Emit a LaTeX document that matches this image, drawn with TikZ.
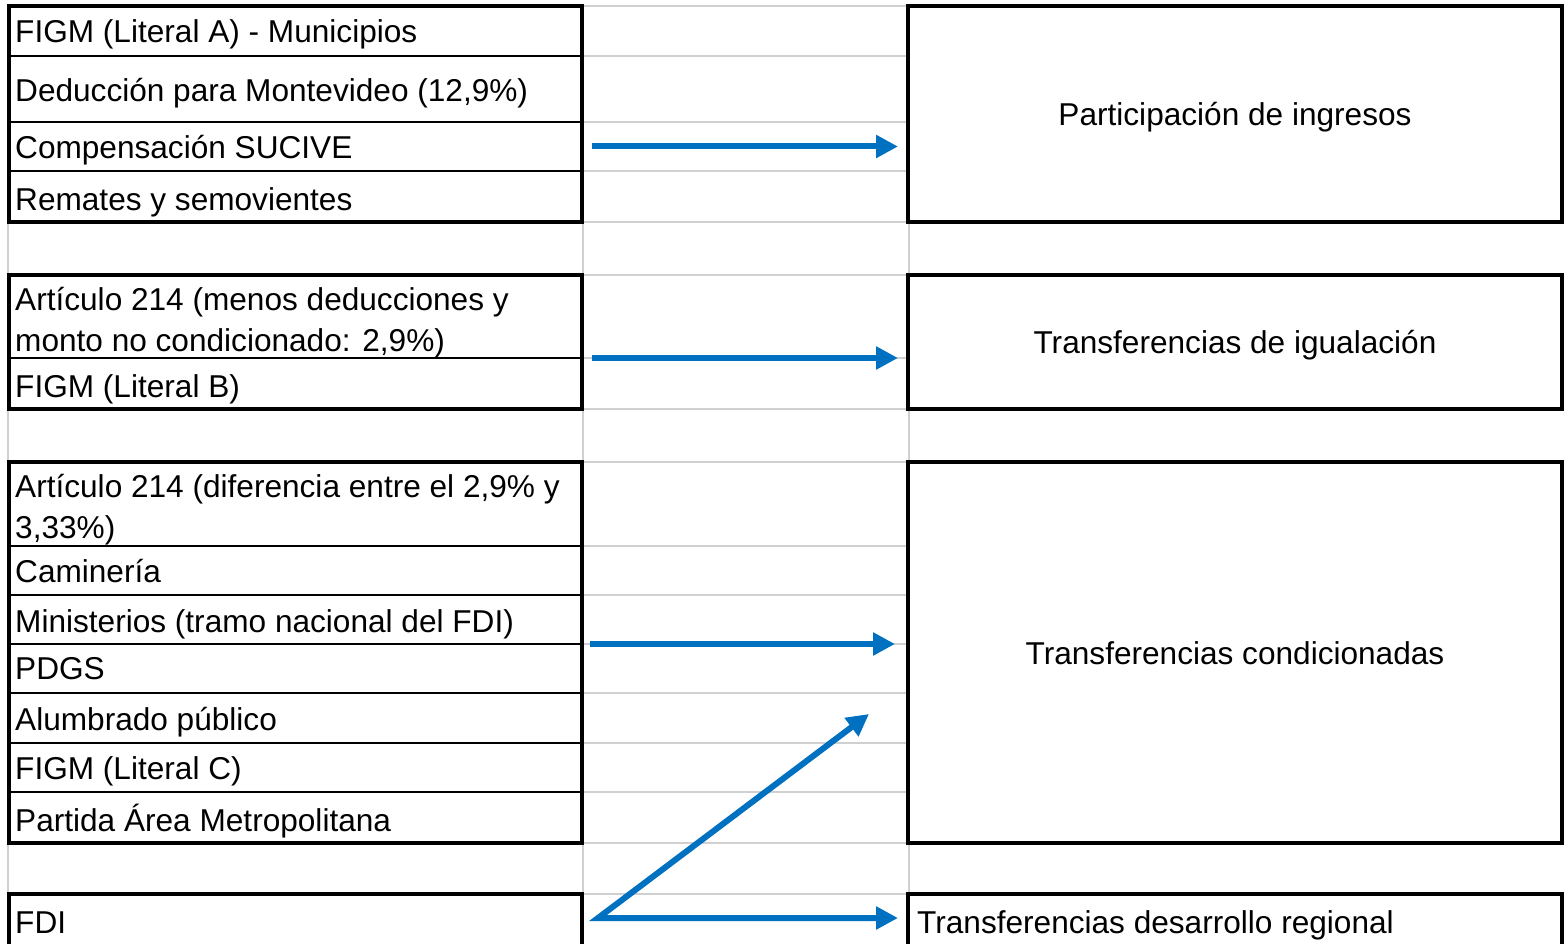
\documentclass[tikz,border=0pt]{standalone}
\usepackage{fontspec}
\setmainfont{Liberation Sans}
\usetikzlibrary{arrows.meta}
\definecolor{gridgray}{HTML}{D0D0D0}
\definecolor{arrblue}{HTML}{0070C0}
\begin{document}
\begin{tikzpicture}[x=1pt,y=-1pt,
  gridline/.style={draw=gridgray,line width=2pt},
  cell/.style={draw=black,line width=2.5pt,fill=white,inner sep=0pt,outer sep=0pt,minimum width=573pt,anchor=north west},
  frame/.style={draw=black,line width=4.5pt,inner sep=0pt,outer sep=0pt,anchor=north west},
  rbox/.style={frame,fill=white,minimum width=654pt,text height=23pt,text depth=0pt,font=\fontsize{31.6pt}{38pt}\selectfont},
  lbl/.style={anchor=base west,inner sep=0pt,font=\fontsize{31.6pt}{38pt}\selectfont},
  arr/.style={draw=arrblue,line width=6pt,-{Triangle[length=22pt,width=22pt]}},
  arrboth/.style={draw=arrblue,line width=6pt,line join=miter,{Triangle[length=22pt,width=22pt]}-{Triangle[length=22pt,width=22pt]}}]
\useasboundingbox (0,0) rectangle (1564,944);
\clip (0,0) rectangle (1564,944);
% grid
\foreach \yy in {6,56,122,171,222,275,358,409,462,546,595,644,693,743,792,843,894}
  \draw[gridline] (8,\yy) -- (1564,\yy);
\foreach \xx in {8,583,909}
  \draw[gridline] (\xx,6) -- (\xx,960);
% left cells
\node[cell,minimum height=50pt] (c1) at (9,6) {};
\node[cell,minimum height=66pt] (c2) at (9,56) {};
\node[cell,minimum height=49pt] (c3) at (9,122) {};
\node[cell,minimum height=51pt] (c4) at (9,171) {};
\node[cell,minimum height=83pt] (c5) at (9,275) {};
\node[cell,minimum height=51pt] (c6) at (9,358) {};
\node[cell,minimum height=84pt] (c7) at (9,462) {};
\node[cell,minimum height=49pt] (c8) at (9,546) {};
\node[cell,minimum height=49pt] (c9) at (9,595) {};
\node[cell,minimum height=49pt] (c10) at (9,644) {};
\node[cell,minimum height=50pt] (c11) at (9,693) {};
\node[cell,minimum height=49pt] (c12) at (9,743) {};
\node[cell,minimum height=51pt] (c13) at (9,792) {};
\node[cell,minimum height=70pt] (c14) at (9,894) {};
% left frames
\node[frame,minimum width=573pt,minimum height=216pt] (L1) at (9,6) {};
\node[frame,minimum width=573pt,minimum height=134pt] (L2) at (9,275) {};
\node[frame,minimum width=573pt,minimum height=381pt] (L3) at (9,462) {};
\node[frame,minimum width=573pt,minimum height=70pt] (L4) at (9,894) {};
% right boxes
\node[rbox,minimum height=216pt] (part) at (908,6) {Participación de ingresos};
\node[rbox,minimum height=134pt] (igual) at (908,275) {Transferencias de igualación};
\node[rbox,minimum height=381pt] (cond) at (908,462) {Transferencias condicionadas};
\node[frame,fill=white,minimum width=654pt,minimum height=70pt] (regional) at (908,894) {};
% left texts
\node[lbl] (t1) at (15,43) {FIGM (Literal A) - Municipios};
\node[lbl] (t2) at (15,102) {Deducción para Montevideo (12,9\%)};
\node[lbl] (t3) at (15,159) {Compensación SUCIVE};
\node[lbl] (t4) at (15,211) {Remates y semovientes};
\node[lbl] (t5a) at (15,310) {Artículo 214 (menos deducciones y};
\node[lbl] (t5b) at (15,351) {monto no condicionado: 2,9\%)};
\node[lbl] (t6) at (15,397) {FIGM (Literal B)};
\node[lbl] (t7a) at (15,497) {Artículo 214 (diferencia entre el 2,9\% y};
\node[lbl] (t7b) at (15,538) {3,33\%)};
\node[lbl] (t8) at (15,582) {Caminería};
\node[lbl] (t9) at (15,632) {Ministerios (tramo nacional del FDI)};
\node[lbl] (t10) at (15,679) {PDGS};
\node[lbl] (t11) at (15,730) {Alumbrado público};
\node[lbl] (t12) at (15,779) {FIGM (Literal C)};
\node[lbl] (t13) at (15,831) {Partida Área Metropolitana};
\node[lbl] (t14) at (15,933) {FDI};
\node[lbl] (t15) at (917,933) {Transferencias desarrollo regional};
% arrows
\draw[arr] ([xshift=10pt]c3.east) -- ([xshift=-10pt]c3.east -| part.west);
\draw[arr] ([xshift=10pt]c5.south east) -- ([xshift=-10pt]c5.south east -| igual.west);
\draw[arr] ([xshift=8pt]c9.south east) -- ([xshift=-13pt]c9.south east -| cond.west);
\coordinate (fdiout) at (598,918);
\coordinate (diagend) at (869,714);
\draw[arrboth] (diagend) -- (fdiout) -- ([xshift=-10pt]fdiout -| regional.west);
\end{tikzpicture}
\end{document}
